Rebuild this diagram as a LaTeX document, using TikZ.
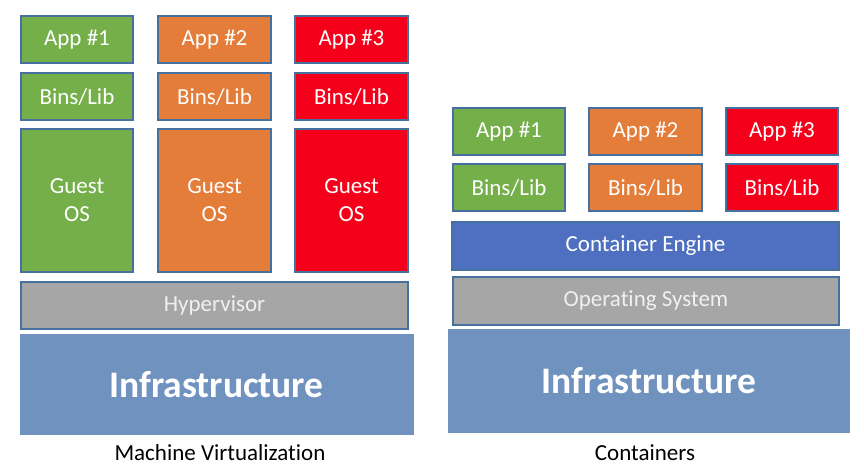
\documentclass[tikz,border=0pt]{standalone}
\usepackage{fontspec}
\setmainfont[Ligatures={NoCommon}]{Carlito}
\definecolor{cgreen}{HTML}{75AF4A}
\definecolor{corange}{HTML}{E47D3A}
\definecolor{cred}{HTML}{F4001B}
\definecolor{cengine}{HTML}{4F6FC0}
\definecolor{cgray}{HTML}{A6A6A6}
\definecolor{cinfra}{HTML}{6F92BF}
\definecolor{cborder}{HTML}{46709F}
\definecolor{clighttext}{HTML}{F0F0F0}
\begin{document}
\begin{tikzpicture}[x=1pt,y=-1pt,
  box/.style={draw=cborder, line width=2pt, inner sep=0pt, text=white,
    font=\fontsize{23}{28}\selectfont, align=center},
  infra/.style={fill=cinfra, inner sep=0pt, text=white,
    font=\fontsize{37.5}{42}\selectfont\bfseries},
  caption/.style={inner sep=0pt, text=black, font=\fontsize{23}{27}\selectfont}]
\useasboundingbox (0,0) rectangle (864,475);
% ---- Machine Virtualization ----
\node[box, fill=cgreen, minimum width=112pt, minimum height=47pt] (la1) at (77,39.5) {App \#1};
\node[box, fill=corange, minimum width=113pt, minimum height=47pt] (la2) at (214.5,39.5) {App \#2};
\node[box, fill=cred, minimum width=113pt, minimum height=47pt] (la3) at (351.5,39.5) {App \#3};
\node[box, fill=cgreen, minimum width=112pt, minimum height=47pt] (lb1) at (77,96.5) {Bins/Lib};
\node[box, fill=corange, minimum width=113pt, minimum height=47pt] (lb2) at (214.5,96.5) {Bins/Lib};
\node[box, fill=cred, minimum width=113pt, minimum height=47pt] (lb3) at (351.5,96.5) {Bins/Lib};
\node[box, fill=cgreen, minimum width=112pt, minimum height=143pt] (lg1) at (77,200.5) {Guest\\OS};
\node[box, fill=corange, minimum width=113pt, minimum height=143pt] (lg2) at (214.5,200.5) {Guest\\OS};
\node[box, fill=cred, minimum width=113pt, minimum height=143pt] (lg3) at (351.5,200.5) {Guest\\OS};
\node[box, fill=cgray, text=clighttext, minimum width=387pt, minimum height=47pt] (hyp) at (214.5,305.5) {Hypervisor};
\node[infra, minimum width=394pt, minimum height=101pt] (linf) at (216.5,384.5) {Infrastructure};
\node[caption] (lcap) at (220,453) {Machine Virtualization};
% ---- Containers ----
\node[box, fill=cgreen, minimum width=112pt, minimum height=47pt] (ra1) at (509,131.5) {App \#1};
\node[box, fill=corange, minimum width=113pt, minimum height=47pt] (ra2) at (645.5,131.5) {App \#2};
\node[box, fill=cred, minimum width=112pt, minimum height=47pt] (ra3) at (782,131.5) {App \#3};
\node[box, fill=cgreen, minimum width=112pt, minimum height=47pt] (rb1) at (509,187.5) {Bins/Lib};
\node[box, fill=corange, minimum width=113pt, minimum height=47pt] (rb2) at (645.5,187.5) {Bins/Lib};
\node[box, fill=cred, minimum width=112pt, minimum height=47pt] (rb3) at (782,187.5) {Bins/Lib};
\node[box, fill=cengine, minimum width=387pt, minimum height=48pt] (eng) at (645.5,246) {Container Engine};
\node[box, fill=cgray, text=clighttext, minimum width=386pt, minimum height=48pt] (os) at (646,301) {Operating System};
\node[infra, minimum width=402pt, minimum height=104pt] (rinf) at (649,381) {Infrastructure};
\node[caption] (rcap) at (645,453) {Containers};
\end{tikzpicture}
\end{document}
